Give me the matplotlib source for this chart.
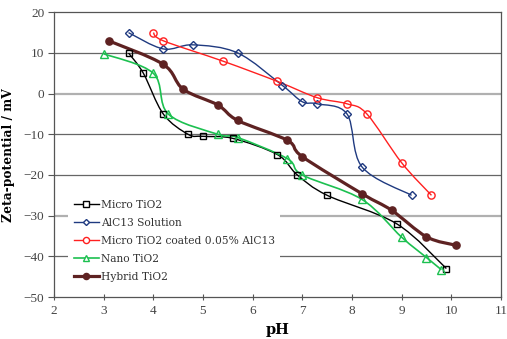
import matplotlib
matplotlib.use("Agg")
import matplotlib.pyplot as plt
import numpy as np
from matplotlib.path import Path
from matplotlib.patches import PathPatch
from matplotlib.lines import Line2D

micro_x = [3.5, 3.8, 4.2, 4.7, 5.0, 5.6, 6.5, 6.9, 7.5, 8.9, 9.9]
micro_y = [10, 5, -5, -10, -10.5, -11, -15, -20, -25, -32, -43]

alcl3_x = [3.5, 4.2, 4.8, 5.7, 6.6, 7.0, 7.3, 7.9, 8.2, 9.2]
alcl3_y = [15, 11, 12, 10, 2, -2, -2.5, -5, -18, -25]

coated_x = [4.0, 4.2, 5.4, 6.5, 7.3, 7.9, 8.3, 9.0, 9.6]
coated_y = [15, 13, 8, 3, -1, -2.5, -5, -17, -25]

nano_x = [3.0, 4.0, 4.3, 5.3, 5.7, 6.7, 7.0, 8.2, 9.0, 9.5, 9.8]
nano_y = [9.8, 5, -5, -10, -10.8, -16, -20, -26, -35.3, -40.3, -43.3]

hybrid_x = [3.1, 4.2, 4.6, 5.3, 5.7, 6.7, 7.0, 8.2, 8.8, 9.5, 10.1]
hybrid_y = [13, 7.2, 1.1, -2.8, -6.6, -11.5, -15.5, -24.6, -28.7, -35.2, -37.3]

labels = ["Micro TiO2", "AlC13 Solution", "Micro TiO2 coated 0.05% AlC13",
          "Nano TiO2", "Hybrid TiO2"]
xticks = list(range(2, 12))
yticks = list(range(-50, 21, 10))

SERIF = ["DejaVu Serif"]
TICKF = ["Liberation Serif"]

fig = plt.figure(figsize=(5.07, 3.39), dpi=100)
ax = fig.add_axes([54/507, 1-297/339, (501-54)/507, (297-12.3)/339])
ax.set_xlim(2, 11)
ax.set_ylim(-50, 20)


def smooth_path(xs, ys):
    P = np.column_stack([xs, ys]).astype(float)
    n = len(P)
    verts = [P[0]]
    codes = [Path.MOVETO]
    for i in range(n - 1):
        p0 = P[i - 1] if i > 0 else P[i]
        p1 = P[i]
        p2 = P[i + 1]
        p3 = P[i + 2] if i + 2 < n else P[i + 1]
        c1 = p1 + (p2 - p0) / 6.0
        c2 = p2 - (p3 - p1) / 6.0
        verts += [c1, c2, p2]
        codes += [Path.CURVE4] * 3
    return Path(verts, codes)


# gridlines
for yv in [10, -10, -20, -40]:
    ax.axhline(yv, color="#666666", lw=0.9, zorder=1)
for yv in [0, -30]:
    ax.axhline(yv, color="#b0b0b0", lw=1.6, zorder=1)

series = [
    (micro_x, micro_y, "black", 1.0, "s", 5.0, "none"),
    (alcl3_x, alcl3_y, "#1f3a80", 1.0, "D", 3.6, "none"),
    (coated_x, coated_y, "#ff2020", 1.0, "o", 5.2, "none"),
    (nano_x, nano_y, "#1cc050", 1.2, "^", 5.5, "none"),
    (hybrid_x, hybrid_y, "#5e2222", 2.3, "o", 5.2, "fill"),
]

handles = []
for (xs, ys, c, lw, m, ms, fill), lab in zip(series, labels):
    patch = PathPatch(smooth_path(xs, ys), facecolor="none", edgecolor=c, lw=lw, zorder=3)
    ax.add_patch(patch)
    mfc = c if fill == "fill" else "none"
    ax.plot(xs, ys, linestyle="none", marker=m, ms=ms, mfc=mfc, mec=c, mew=1.0, zorder=4)
    handles.append(Line2D([], [], color=c, lw=lw, marker=m, ms=ms*0.85,
                          mfc=mfc if fill == "fill" else "white", mec=c, mew=1.0))

leg = ax.legend(handles, labels, loc="lower left", bbox_to_anchor=(0.02, 0.015),
                frameon=True, fancybox=False, edgecolor="none", facecolor="white", framealpha=1,
                prop={"family": SERIF, "size": 7.7}, handlelength=2.4, handletextpad=0.15,
                labelspacing=0.75, borderpad=0.5)
leg.set_zorder(5)
for t in leg.get_texts():
    t.set_color("#333333")

ax.set_xticks(xticks)
ax.set_yticks(yticks)
ax.tick_params(axis="x", direction="inout", length=4, color="#555555", labelsize=9.5, labelcolor="#444444", pad=4)
ax.tick_params(axis="y", direction="out", length=4, color="#555555", labelsize=9.5, labelcolor="#444444", pad=3)
for lab in ax.get_xticklabels() + ax.get_yticklabels():
    lab.set_family(TICKF)

for s in ax.spines.values():
    s.set_color("#555555")
    s.set_linewidth(0.9)

ax.set_xlabel("pH", family=SERIF, fontsize=10.5, fontweight="bold", labelpad=4)
ax.set_ylabel("Zeta-potential / mV", family=SERIF, fontsize=8.8, fontweight="bold")
ax.yaxis.set_label_coords(-0.087, 0.5)

fig.savefig("out.png", dpi=100)
